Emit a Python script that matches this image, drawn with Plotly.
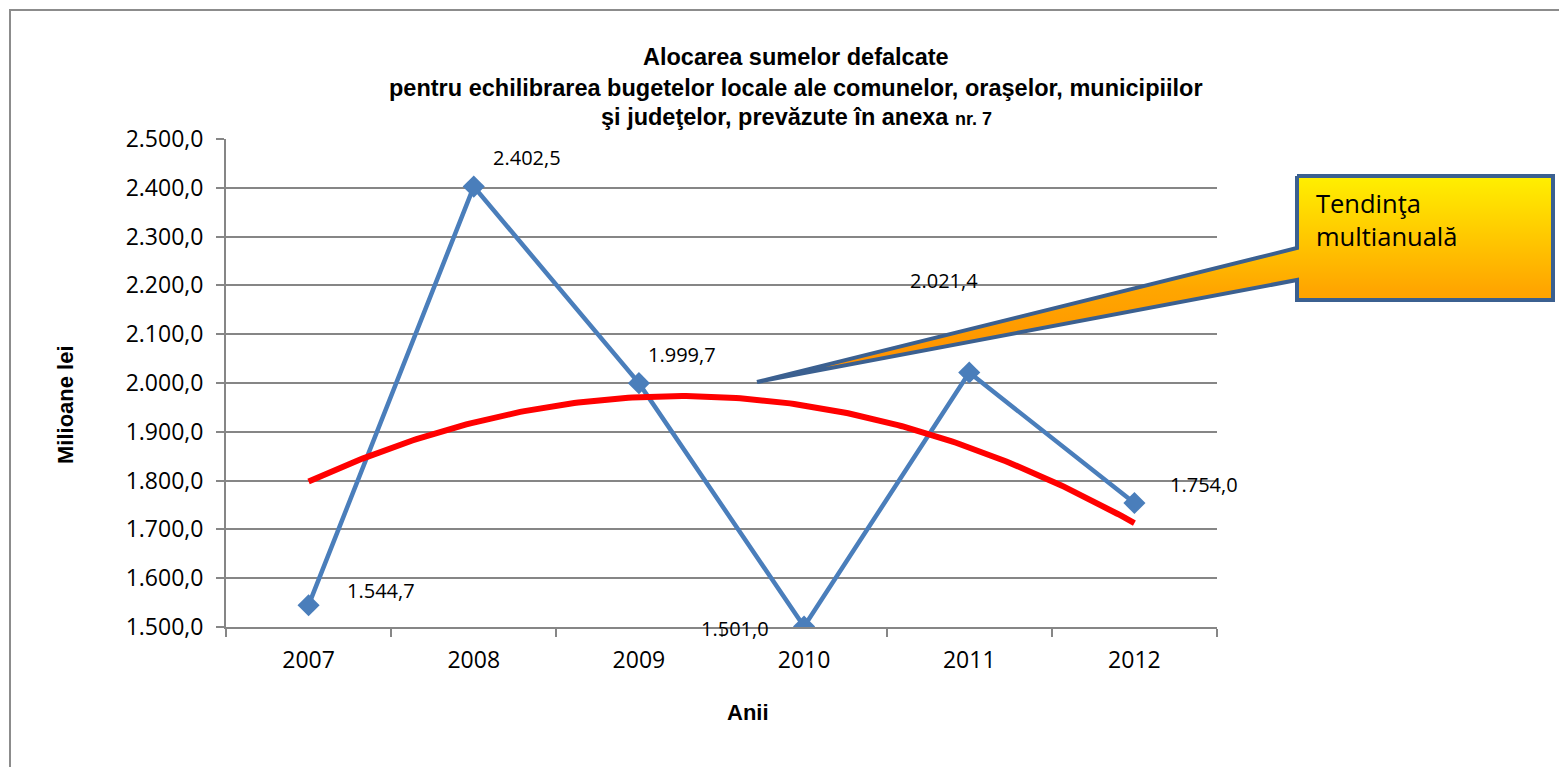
import numpy as np
import plotly.graph_objects as go

# ---------------- data ----------------
years = ["2007", "2008", "2009", "2010", "2011", "2012"]
values = [1544.7, 2402.5, 1999.7, 1501.0, 2021.4, 1754.0]
value_labels = ["1.544,7", "2.402,5", "1.999,7", "1.501,0", "2.021,4", "1.754,0"]
y_tick_vals = [1500, 1600, 1700, 1800, 1900, 2000, 2100, 2200, 2300, 2400, 2500]
y_tick_text = ["1.500,0", "1.600,0", "1.700,0", "1.800,0", "1.900,0", "2.000,0",
               "2.100,0", "2.200,0", "2.300,0", "2.400,0", "2.500,0"]

title_lines = [
    "Alocarea sumelor defalcate",
    "pentru echilibrarea bugetelor locale ale comunelor, oraşelor, municipiilor",
    "şi judeţelor, prevăzute în anexa <span style='font-size:18px'>nr. 7</span>",
]
callout_text = "Tendinţa<br>multianuală"

# label offsets (pixels) relative to each point: (dx, dy up)
label_offsets = [(72, 15), (53, 29), (43, 29), (-69, -2), (-25, 92), (70, 19)]

# ---------------- layout geometry ----------------
W, H = 1559, 767
PL, PR, PT, PB = 226, 1217, 139, 627  # plot area in pixels

xpos = list(range(1, len(years) + 1))

# polynomial (order 2) trendline derived from the data
coef = np.polyfit(xpos, values, 2)
xt = np.linspace(1, len(years), 200)
yt = np.polyval(coef, xt)

TICK_FONT = "Open Sans, Calibri, sans-serif"
BOLD_FONT = "Liberation Sans, Arial, sans-serif"
GRID = "#868686"

fig = go.Figure()

fig.add_trace(go.Scatter(
    x=xpos, y=values, mode="lines+markers",
    line=dict(color="#4A7EBB", width=4.5),
    marker=dict(symbol="diamond", size=17, color="#4A7EBB"),
    xaxis="x", yaxis="y", showlegend=False, hoverinfo="skip",
))
fig.add_trace(go.Scatter(
    x=xt, y=yt, mode="lines",
    line=dict(color="#FF0000", width=6),
    xaxis="x", yaxis="y", showlegend=False, hoverinfo="skip",
))

# callout (pixel-space subplot covering the whole figure)
cx = [1297, 1553, 1553, 1297, 1297, 757, 1297, 1297]
cy = [176, 176, 300, 300, 280, 382, 248, 176]
fig.add_trace(go.Scatter(
    x=cx, y=[H - v for v in cy], mode="lines", fill="toself",
    line=dict(color="#3B6090", width=4),
    fillgradient=dict(type="vertical",
                      colorscale=[[0, "#FF8C00"], [0.45, "#FFA600"], [1, "#FFF000"]]),
    xaxis="x2", yaxis="y2", showlegend=False, hoverinfo="skip",
))

annotations = []
for i, (v, lab) in enumerate(zip(values, value_labels)):
    dx, dy = label_offsets[i]
    annotations.append(dict(
        x=xpos[i], y=v, xref="x", yref="y", text=lab, showarrow=False,
        xshift=dx, yshift=dy, font=dict(family=TICK_FONT, size=20, color="#000"),
    ))

title_y = [57, 88, 117]
for line, py in zip(title_lines, title_y):
    annotations.append(dict(
        x=796 / W, y=1 - py / H, xref="paper", yref="paper", text="<b>" + line + "</b>",
        showarrow=False, xanchor="center", yanchor="middle",
        font=dict(family=BOLD_FONT, size=23.5, color="#000"),
    ))

annotations.append(dict(
    x=65 / W, y=1 - 405 / H, xref="paper", yref="paper", text="<b>Milioane lei</b>",
    showarrow=False, textangle=-90, xanchor="center", yanchor="middle",
    font=dict(family=BOLD_FONT, size=22, color="#000"),
))
annotations.append(dict(
    x=748 / W, y=1 - 712 / H, xref="paper", yref="paper", text="<b>Anii</b>",
    showarrow=False, xanchor="center", yanchor="middle",
    font=dict(family=BOLD_FONT, size=22, color="#000"),
))
annotations.append(dict(
    x=1314 / W, y=1 - 184 / H, xref="paper", yref="paper", text=callout_text,
    showarrow=False, xanchor="left", yanchor="top", align="left",
    font=dict(family=TICK_FONT, size=25.5, color="#000"),
))

fig.update_layout(
    width=W, height=H,
    margin=dict(l=0, r=0, t=0, b=0, pad=0, autoexpand=False),
    paper_bgcolor="white", plot_bgcolor="rgba(0,0,0,0)",
    xaxis=dict(
        domain=[PL / W, PR / W], range=[0.5, len(years) + 0.5],
        tickmode="array", tickvals=xpos, ticktext=years, ticks="",
        showgrid=False, zeroline=False, showline=True, linecolor=GRID, linewidth=2,
        tickfont=dict(family=TICK_FONT, size=23, color="#000"),
        ticklabelstandoff=11,
        minor=dict(tickmode="array", tickvals=[i + 0.5 for i in range(len(years) + 1)],
                   ticks="outside", ticklen=8, tickcolor=GRID, tickwidth=2, showgrid=False),
        anchor="y", automargin=False,
    ),
    yaxis=dict(
        domain=[1 - PB / H, 1 - PT / H], range=[1500, 2500],
        tickmode="array", tickvals=y_tick_vals, ticktext=y_tick_text,
        ticks="outside", ticklen=8, tickcolor=GRID, tickwidth=2,
        showgrid=True, gridcolor=GRID, gridwidth=1.5, zeroline=False,
        showline=True, linecolor=GRID, linewidth=2,
        tickfont=dict(family=TICK_FONT, size=23, color="#000"),
        ticklabelstandoff=8,
        anchor="x", automargin=False,
    ),
    xaxis2=dict(domain=[0, 1], range=[0, W], visible=False, anchor="y2",
                fixedrange=True, automargin=False),
    yaxis2=dict(domain=[0, 1], range=[0, H], visible=False, anchor="x2",
                fixedrange=True, automargin=False),
    annotations=annotations,
    shapes=[dict(type="rect", xref="paper", yref="paper",
                 x0=10 / W, x1=1.02, y0=-0.02, y1=1 - 10 / H,
                 line=dict(color="#8C8C8C", width=2), fillcolor="rgba(0,0,0,0)", layer="below")],
)

fig.write_html("out.html",
               config={"displayModeBar": False},
               post_script="document.body.style.margin='0';document.body.style.overflow='hidden';")
